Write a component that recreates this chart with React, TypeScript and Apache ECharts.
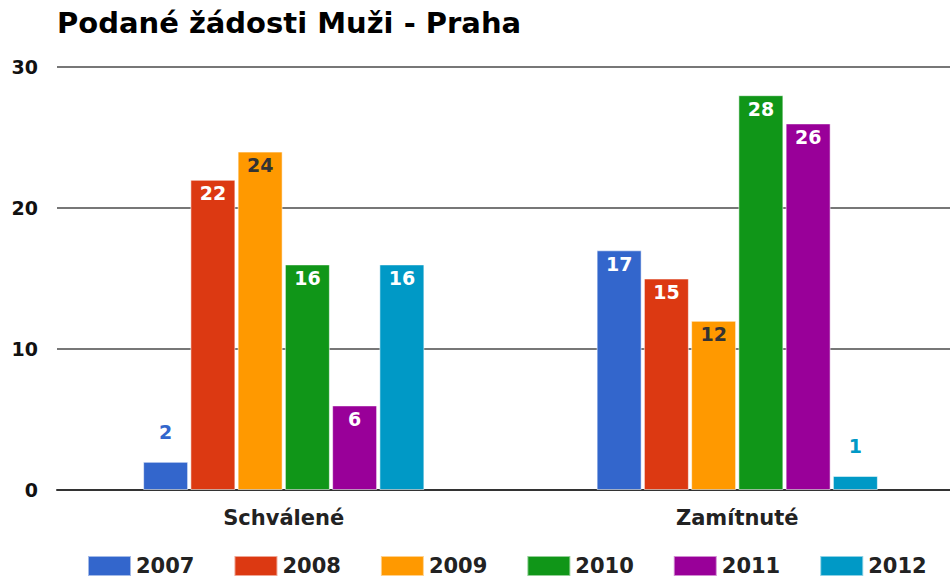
import React, { useEffect, useRef } from "react";
import * as echarts from "echarts";

const categories = ["Schválené", "Zamítnuté"];
const years = ["2007", "2008", "2009", "2010", "2011", "2012"];
const values2007 = [2, 17];
const values2008 = [22, 15];
const values2009 = [24, 12];
const values2010 = [16, 28];
const values2011 = [6, 26];
const values2012 = [16, 1];
const seriesValues = [values2007, values2008, values2009, values2010, values2011, values2012];
const colors = ["#3366cc", "#dc3912", "#ff9900", "#109618", "#990099", "#0099c6"];
const labelColors = ["#ffffff", "#ffffff", "#333333", "#ffffff", "#ffffff", "#ffffff"];
const yTicks = { min: 0, max: 30, interval: 10 };

const FONT = "DejaVu Sans";

export default function App() {
  const ref = useRef<HTMLDivElement>(null);
  useEffect(() => {
    if (!ref.current) return;
    const chart = echarts.init(ref.current, null, { renderer: "svg" });
    const series = years.map((y, i) => ({
      name: y,
      type: "bar",
      barWidth: 45,
      barGap: "5%",
      barCategoryGap: "38%",
      itemStyle: { color: colors[i], borderColor: "rgba(255,255,255,0.55)", borderWidth: 1 },
      data: seriesValues[i].map((v) => {
        const small = v < 4;
        return {
          value: v,
          label: small
            ? { show: true, position: "top", distance: 20, color: colors[i] }
            : { show: true, position: "insideTop", distance: 4, color: labelColors[i] },
        };
      }),
      label: {
        show: true,
        fontFamily: FONT,
        fontWeight: "bold",
        fontSize: 19,
      },
    }));
    chart.setOption({
      animation: false,
      backgroundColor: "#ffffff",
      title: {
        text: "Podané žádosti Muži - Praha",
        left: 52,
        top: 3,
        textStyle: { fontFamily: FONT, fontWeight: "bold", fontSize: 29, color: "#000000" },
      },
      legend: {
        bottom: -4,
        left: 82,
        itemWidth: 43,
        itemHeight: 20,
        itemGap: 39,
        icon: "rect",
        textStyle: { fontFamily: FONT, fontWeight: "bold", fontSize: 21, color: "#222222" },
        data: years,
      },
      grid: { left: 57, top: 67, bottom: 88, width: 907, containLabel: false },
      xAxis: {
        type: "category",
        data: categories,
        axisTick: { show: false },
        axisLine: { show: true, lineStyle: { color: "#333333", width: 2 } },
        axisLabel: {
          margin: 17,
          fontFamily: FONT,
          fontWeight: "bold",
          fontSize: 21,
          color: "#222222",
        },
      },
      yAxis: {
        type: "value",
        min: yTicks.min,
        max: yTicks.max,
        interval: yTicks.interval,
        axisLine: { show: false },
        axisTick: { show: false },
        splitLine: { lineStyle: { color: "#777777", width: 2 } },
        axisLabel: {
          margin: 19,
          fontFamily: FONT,
          fontWeight: "bold",
          fontSize: 19,
          color: "#111111",
        },
      },
      series,
    });
    return () => chart.dispose();
  }, []);
  return (
    <div style={{ position: "fixed", left: 0, top: 0, width: 950, height: 578, overflow: "hidden" }}>
      <div ref={ref} style={{ width: 980, height: 578 }} />
    </div>
  );
}
